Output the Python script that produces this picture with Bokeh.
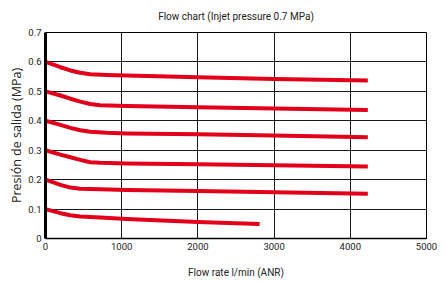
from bokeh.plotting import figure
from bokeh.layouts import row
from bokeh.models import Range1d, FixedTicker, NumeralTickFormatter, Spacer
from bokeh.embed import file_html
from bokeh.resources import INLINE

# Data (flow in l/min, outlet pressure in MPa)
flow_06 = [0, 196, 326, 456, 587, 804, 1065, 2000, 3000, 4230]
pres_06 = [0.600, 0.582, 0.571, 0.563, 0.558, 0.556, 0.554, 0.548, 0.542, 0.537]

flow_05 = [0, 196, 326, 456, 587, 717, 1065, 2000, 3000, 4230]
pres_05 = [0.500, 0.486, 0.475, 0.465, 0.457, 0.453, 0.450, 0.446, 0.442, 0.437]

flow_04 = [0, 196, 326, 456, 587, 804, 1065, 2000, 3000, 4230]
pres_04 = [0.400, 0.386, 0.376, 0.368, 0.363, 0.359, 0.357, 0.354, 0.350, 0.344]

flow_03 = [0, 196, 326, 456, 587, 717, 1065, 2000, 3000, 4230]
pres_03 = [0.300, 0.285, 0.276, 0.267, 0.259, 0.257, 0.255, 0.252, 0.249, 0.245]

flow_02 = [0, 196, 326, 456, 717, 1065, 2000, 3000, 4230]
pres_02 = [0.200, 0.182, 0.173, 0.169, 0.167, 0.165, 0.161, 0.157, 0.152]

flow_01 = [0, 196, 326, 456, 717, 1065, 2000, 2810]
pres_01 = [0.100, 0.086, 0.079, 0.075, 0.071, 0.066, 0.056, 0.049]

x_ticks = [0, 1000, 2000, 3000, 4000, 5000]
y_ticks = [0, 0.1, 0.2, 0.3, 0.4, 0.5, 0.6, 0.7]

series = [(flow_06, pres_06), (flow_05, pres_05), (flow_04, pres_04),
          (flow_03, pres_03), (flow_02, pres_02), (flow_01, pres_01)]

FONT = "Roboto"
RED = "#e2001a"
TXT = "#222222"

p = figure(frame_width=381, frame_height=206, output_backend="svg", toolbar_location=None,
           x_range=Range1d(0, 5000), y_range=Range1d(0, 0.7),
           title="Flow chart (Injet pressure 0.7 MPa)",
           min_border_left=32, min_border_right=12, min_border_top=32, min_border_bottom=35)

p.title.align = "center"
p.title.vertical_align = "top"
p.title.offset = 6
p.title.text_font = FONT
p.title.text_font_size = "10px"
p.title.text_font_style = "normal"
p.title.text_color = TXT
p.title.standoff = 18

p.outline_line_color = "black"
p.outline_line_width = 1
p.background_fill_color = "white"
p.border_fill_color = "white"

p.xaxis.ticker = FixedTicker(ticks=x_ticks)
p.yaxis.ticker = FixedTicker(ticks=y_ticks)
p.yaxis.formatter = NumeralTickFormatter(format="0.[0]")
p.xaxis.formatter = NumeralTickFormatter(format="0")

for ax in (p.xaxis, p.yaxis):
    ax.major_tick_out = 0
    ax.major_tick_in = 0
    ax.minor_tick_out = 0
    ax.minor_tick_in = 0
    ax.major_label_text_font = FONT
    ax.major_label_text_font_size = "9.5px"
    ax.major_label_text_color = TXT
    ax.axis_line_color = "black"
    ax.major_label_standoff = 4

p.yaxis.axis_line_width = 3
p.xaxis.axis_line_width = 1.5

p.xaxis.axis_label = "Flow rate l/min (ANR)"
p.xaxis.axis_label_text_font = FONT
p.xaxis.axis_label_text_font_size = "10px"
p.xaxis.axis_label_text_font_style = "normal"
p.xaxis.axis_label_text_color = TXT
p.xaxis.axis_label_standoff = 14

p.yaxis.axis_label = "Presión de salida (MPa)"
p.yaxis.axis_label_text_font = "Open Sans"
p.yaxis.axis_label_text_font_size = "12.5px"
p.yaxis.axis_label_text_font_style = "normal"
p.yaxis.axis_label_text_color = TXT
p.yaxis.axis_label_standoff = 0

p.xgrid.grid_line_color = "black"
p.ygrid.grid_line_color = "black"
p.xgrid.grid_line_width = 1
p.ygrid.grid_line_width = 1
p.xgrid.grid_line_alpha = 0.9
p.ygrid.grid_line_alpha = 0.9

for fx, py in series:
    p.line(fx, py, line_color=RED, line_width=4, line_join="round", line_cap="butt")

layout = row(Spacer(width=5, height=10), p)

open("out.html", "w").write(file_html(layout, INLINE))
